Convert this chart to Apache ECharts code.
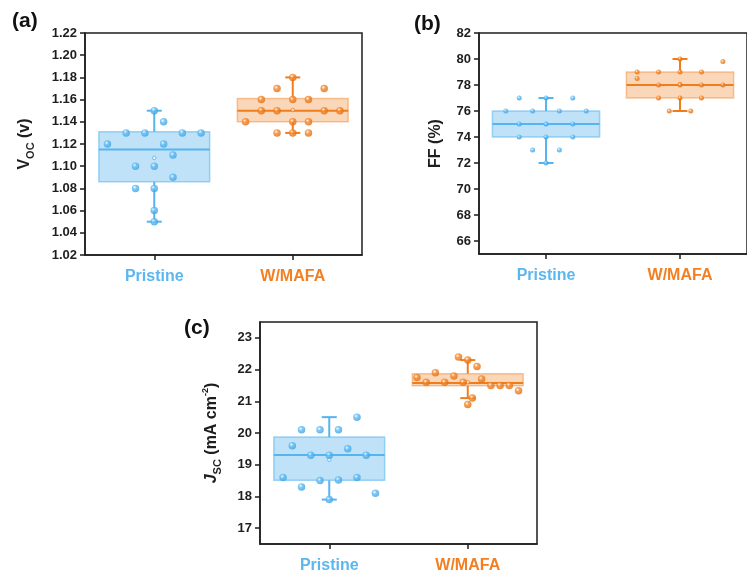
<!DOCTYPE html>
<html><head><meta charset="utf-8">
<script src="https://cdn.jsdelivr.net/npm/echarts@6/dist/echarts.min.js"></script>
<style>html,body{margin:0;padding:0;background:#fff}#c{width:747px;height:576px}</style>
</head><body><div id="c"></div>
<script>
// ---------------- data ----------------
const categories = ['Pristine', 'W/MAFA'];

// (a) Voc
const vocTicks = [1.02, 1.04, 1.06, 1.08, 1.10, 1.12, 1.14, 1.16, 1.18, 1.20, 1.22];
const vocPristine    = [1.15, 1.14, 1.13, 1.13, 1.13, 1.13, 1.12, 1.12, 1.11, 1.10, 1.10, 1.09, 1.08, 1.08, 1.06, 1.05];
const vocPristineCol = [0, 1, -3, -1, 3, 5, -5, 1, 2, -2, 0, 2, -2, 0, 0, 0];
const vocMafa        = [1.18, 1.17, 1.17, 1.16, 1.16, 1.16, 1.15, 1.15, 1.15, 1.15, 1.14, 1.14, 1.14, 1.13, 1.13, 1.13];
const vocMafaCol     = [0, -1, 2, -2, 0, 1, -2, -1, 2, 3, -3, 0, 1, -1, 0, 1];
// box stats: [min, Q1, median, Q3, max, mean]
const vocPristineBox = [1.05, 1.086, 1.115, 1.131, 1.15, 1.1075];
const vocMafaBox     = [1.13, 1.14, 1.15, 1.161, 1.18, 1.1506];

// (b) FF
const ffTicks = [66, 68, 70, 72, 74, 76, 78, 80, 82];
const ffPristine    = [77, 77, 77, 76, 76, 76, 76, 75, 75, 75, 74, 74, 74, 73, 73, 72];
const ffPristineCol = [-2, 0, 2, -3, -1, 1, 3, -2, 0, 2, -2, 0, 2, -1, 1, 0];
const ffMafa        = [80, 79.8, 79, 79, 79, 79, 78.5, 78, 78, 78, 78, 77, 77, 77, 76, 76];
const ffMafaCol     = [0, 2, -2, -1, 0, 1, -2, -1, 0, 1, 2, -1, 0, 1, -0.5, 0.5];
const ffPristineBox = [72, 74, 75, 76, 77, 75];
const ffMafaBox     = [76, 77, 78, 79, 80, 78.08];

// (c) Jsc
const jscTicks = [17, 18, 19, 20, 21, 22, 23];
const jscPristine    = [20.5, 20.1, 20.1, 20.1, 19.6, 19.5, 19.3, 19.3, 19.3, 18.6, 18.6, 18.5, 18.52, 18.3, 18.1, 17.9];
const jscPristineCol = [3, -3, -1, 1, -4, 2, -2, 0, 4, -5, 3, -1, 1, -3, 5, 0];
const jscMafa        = [22.4, 22.3, 22.1, 21.9, 21.8, 21.75, 21.7, 21.6, 21.6, 21.6, 21.5, 21.5, 21.5, 21.33, 21.1, 20.9];
const jscMafaCol     = [-1, 0, 1, -3.5, -1.5, -5.5, 1.5, -4.5, -2.5, -0.5, 2.5, 3.5, 4.5, 5.5, 0.5, 0];
const jscPristineBox = [17.9, 18.51, 19.31, 19.87, 20.5, 19.16];
const jscMafaBox     = [21.1, 21.49, 21.58, 21.87, 22.3, 21.6];

// ---------------- styles ----------------
const BLUE = '#56b4ee', ORANGE = '#f07d1c';
const BLUE_TXT = '#5db7ef', ORANGE_TXT = '#f28022';
const FILLS = ['rgba(86,180,238,0.38)', 'rgba(242,130,40,0.32)'];
const BORDERS = ['rgba(86,180,238,0.55)', 'rgba(242,130,40,0.45)'];
const LINES = [BLUE, ORANGE];
const AXIS = '#1e1e1e';
const FONT = 'Liberation Sans, Arial, sans-serif';

function ball(base, dark) {
  return {type: 'radial', x: 0.38, y: 0.35, r: 0.7,
    colorStops: [{offset: 0, color: '#ffffff'}, {offset: 0.35, color: base}, {offset: 1, color: dark}]};
}
const BLUE_BALL = ball('#62bdf3', '#3a9fe0');
const ORANGE_BALL = ball('#f58a2c', '#e06a0c');

function boxRender(params, api) {
  const idx = params.dataIndex;
  const x = api.value(0);
  const pMin = api.coord([x, api.value(1)]);
  const pQ1 = api.coord([x, api.value(2)]);
  const pMed = api.coord([x, api.value(3)]);
  const pQ3 = api.coord([x, api.value(4)]);
  const pMax = api.coord([x, api.value(5)]);
  const pMean = api.coord([x, api.value(6)]);
  const half = api.size([0.8, 0])[0] / 2;
  const cap = 7.5;
  const cx = pMed[0];
  const lc = LINES[idx];
  const ls = {stroke: lc, lineWidth: 2};
  return {type: 'group', children: [
    {type: 'rect', shape: {x: cx - half, y: pQ3[1], width: 2 * half, height: pQ1[1] - pQ3[1]},
      style: {fill: FILLS[idx], stroke: BORDERS[idx], lineWidth: 1.5}},
    {type: 'line', shape: {x1: cx, y1: pQ3[1], x2: cx, y2: pMax[1]}, style: ls},
    {type: 'line', shape: {x1: cx, y1: pQ1[1], x2: cx, y2: pMin[1]}, style: ls},
    {type: 'line', shape: {x1: cx - cap, y1: pMax[1], x2: cx + cap, y2: pMax[1]}, style: ls},
    {type: 'line', shape: {x1: cx - cap, y1: pMin[1], x2: cx + cap, y2: pMin[1]}, style: ls},
    {type: 'line', shape: {x1: cx - half, y1: pMed[1], x2: cx + half, y2: pMed[1]}, style: ls},
    {type: 'circle', shape: {cx: cx, cy: pMean[1], r: 1.8}, style: {fill: 'rgba(255,255,255,0.6)', stroke: lc, lineWidth: 0.8}}
  ]};
}

const steps = {a: [0.0676, 0.1135], b: [0.1, 0.16], c: [0.0667, 0.0667]};
function pts(vals, cols, catIdx, step) {
  return vals.map((v, i) => [catIdx + 1 + cols[i] * step, v]);
}

const grids = [
  {left: 85, top: 33, width: 277, height: 222},
  {left: 479, top: 33, width: 277, height: 221},
  {left: 260, top: 322, width: 277, height: 222}
].map(g => Object.assign(g, {show: true, borderColor: AXIS, borderWidth: 1.5, backgroundColor: 'transparent', containLabel: false}));

function xAx(gi) {
  return {gridIndex: gi, type: 'value', min: 0.5, max: 2.5,
    axisLine: {show: true, onZero: false, lineStyle: {color: AXIS, width: 1.5}},
    axisTick: {show: true, length: 5, inside: false, customValues: [1, 2], lineStyle: {color: AXIS, width: 1.5}},
    axisLabel: {customValues: [1, 2], margin: 14,
      formatter: v => { const k = Math.round(v) - 1; return '{c' + k + '|' + categories[k] + '}'; },
      rich: {c0: {color: BLUE_TXT, fontSize: 16, fontWeight: 'bold', fontFamily: FONT},
             c1: {color: ORANGE_TXT, fontSize: 16, fontWeight: 'bold', fontFamily: FONT}}},
    splitLine: {show: false}};
}
function yAx(gi, min, max, ticks, dec, name, gap, rich) {
  return {gridIndex: gi, type: 'value', min: min, max: max,
    axisLine: {show: true, onZero: false, lineStyle: {color: AXIS, width: 1.5}},
    axisTick: {show: true, length: 5, customValues: ticks, lineStyle: {color: AXIS, width: 1.5}},
    axisLabel: {customValues: ticks, margin: 8, formatter: v => v.toFixed(dec),
      color: AXIS, fontSize: 13, fontWeight: 'bold', fontFamily: FONT},
    splitLine: {show: false},
    name: name, nameLocation: 'middle', nameRotate: 90, nameGap: gap,
    nameTextStyle: {color: AXIS, fontFamily: FONT, fontSize: 16, fontWeight: 'bold', rich: rich}};
}

const titleRichA = {
  m: {fontSize: 16, fontWeight: 'bold', fontFamily: FONT, color: AXIS, lineHeight: 22},
  s: {fontSize: 11, fontFamily: FONT, color: AXIS, lineHeight: 11, verticalAlign: 'bottom'}
};
const titleRichC = {
  j: {fontSize: 16, fontWeight: 'bold', fontStyle: 'italic', fontFamily: FONT, color: AXIS, lineHeight: 22},
  s: {fontSize: 11, fontFamily: FONT, color: AXIS, lineHeight: 11, verticalAlign: 'bottom'},
  m: {fontSize: 16, fontFamily: FONT, color: AXIS, lineHeight: 22},
  u: {fontSize: 9, fontFamily: FONT, color: AXIS, lineHeight: 9, verticalAlign: 'top'}
};

const panels = [
  {P: vocPristine, Pc: vocPristineCol, W: vocMafa, Wc: vocMafaCol, Pb: vocPristineBox, Wb: vocMafaBox, st: steps.a, size: 7.5},
  {P: ffPristine, Pc: ffPristineCol, W: ffMafa, Wc: ffMafaCol, Pb: ffPristineBox, Wb: ffMafaBox, st: steps.b, size: 5},
  {P: jscPristine, Pc: jscPristineCol, W: jscMafa, Wc: jscMafaCol, Pb: jscPristineBox, Wb: jscMafaBox, st: steps.c, size: 7.5}
];

const series = [];
panels.forEach((p, gi) => {
  series.push({type: 'custom', xAxisIndex: gi, yAxisIndex: gi, renderItem: boxRender, z: 2, silent: true,
    encode: {x: 0, y: [1, 2, 3, 4, 5]},
    data: [[1].concat(p.Pb), [2].concat(p.Wb)]});
  series.push({type: 'scatter', xAxisIndex: gi, yAxisIndex: gi, z: 3, symbol: 'circle', symbolSize: p.size,
    itemStyle: {color: BLUE_BALL}, data: pts(p.P, p.Pc, 0, p.st[0])});
  series.push({type: 'scatter', xAxisIndex: gi, yAxisIndex: gi, z: 3, symbol: 'circle', symbolSize: p.size,
    itemStyle: {color: ORANGE_BALL}, data: pts(p.W, p.Wc, 1, p.st[1])});
});

const chart = echarts.init(document.getElementById('c'), null, {renderer: 'canvas'});
chart.setOption({
  animation: false,
  backgroundColor: '#fff',
  grid: grids,
  xAxis: [xAx(0), xAx(1), xAx(2)],
  yAxis: [
    yAx(0, 1.02, 1.22, vocTicks, 2, '{m|V}{s|OC}{m| (v)}', 49, titleRichA),
    yAx(1, 65, 82, ffTicks, 0, 'FF (%)', 35, null),
    yAx(2, 16.5, 23.5, jscTicks, 0, '{j|J}{s|SC}{m| (mA cm}{u|-2}{m|)}', 37, titleRichC)
  ],
  series: series,
  graphic: [
    {type: 'text', left: 12, top: 11, style: {text: '(a)', font: 'bold 21px ' + FONT, fill: '#111'}},
    {type: 'text', left: 414, top: 14, style: {text: '(b)', font: 'bold 21px ' + FONT, fill: '#111'}},
    {type: 'text', left: 184, top: 318, style: {text: '(c)', font: 'bold 21px ' + FONT, fill: '#111'}}
  ]
});
</script>
</body></html>
